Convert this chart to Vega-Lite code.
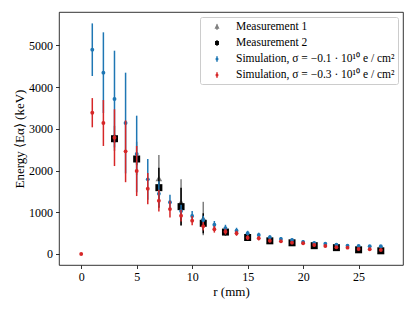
{
  "$schema": "https://vega.github.io/schema/vega-lite/v6.json",
  "width": 344,
  "height": 253,
  "autosize": "none",
  "padding": {"left": 59, "top": 12, "right": 12, "bottom": 46},
  "background": "#ffffff",
  "data": {
    "values": [
      {"s": "m1", "r": 3, "v": 2770, "e": 300},
      {"s": "m1", "r": 5, "v": 2290, "e": 400},
      {"s": "m1", "r": 7, "v": 1813, "e": 560},
      {"s": "m1", "r": 9, "v": 1240, "e": 550},
      {"s": "m1", "r": 11, "v": 850, "e": 400},
      {"s": "m1", "r": 13, "v": 530, "e": 80},
      {"s": "m1", "r": 15, "v": 400, "e": 60},
      {"s": "m1", "r": 17, "v": 320, "e": 50},
      {"s": "m1", "r": 19, "v": 270, "e": 40},
      {"s": "m1", "r": 21, "v": 200, "e": 40},
      {"s": "m1", "r": 23, "v": 155, "e": 30},
      {"s": "m1", "r": 25, "v": 102, "e": 30},
      {"s": "m1", "r": 27, "v": 78, "e": 30},
      {"s": "m2", "r": 3, "v": 2762, "e": 100},
      {"s": "m2", "r": 5, "v": 2276, "e": 150},
      {"s": "m2", "r": 7, "v": 1589, "e": 480},
      {"s": "m2", "r": 9, "v": 1134, "e": 450},
      {"s": "m2", "r": 11, "v": 735, "e": 240},
      {"s": "m2", "r": 13, "v": 525, "e": 80},
      {"s": "m2", "r": 15, "v": 395, "e": 50},
      {"s": "m2", "r": 17, "v": 315, "e": 40},
      {"s": "m2", "r": 19, "v": 268, "e": 35},
      {"s": "m2", "r": 21, "v": 199, "e": 30},
      {"s": "m2", "r": 23, "v": 152, "e": 30},
      {"s": "m2", "r": 25, "v": 100, "e": 25},
      {"s": "m2", "r": 27, "v": 76, "e": 25},
      {"s": "s1", "r": 1, "v": 4895, "e": 630},
      {"s": "s1", "r": 2, "v": 4344, "e": 967},
      {"s": "s1", "r": 3, "v": 3713, "e": 1158},
      {"s": "s1", "r": 4, "v": 3138, "e": 1206},
      {"s": "s1", "r": 5, "v": 2396, "e": 918},
      {"s": "s1", "r": 6, "v": 1789, "e": 487},
      {"s": "s1", "r": 7, "v": 1445, "e": 300},
      {"s": "s1", "r": 8, "v": 1240, "e": 180},
      {"s": "s1", "r": 9, "v": 1030, "e": 150},
      {"s": "s1", "r": 10, "v": 910, "e": 120},
      {"s": "s1", "r": 11, "v": 815, "e": 100},
      {"s": "s1", "r": 12, "v": 700, "e": 90},
      {"s": "s1", "r": 13, "v": 620, "e": 80},
      {"s": "s1", "r": 14, "v": 558, "e": 70},
      {"s": "s1", "r": 15, "v": 496, "e": 60},
      {"s": "s1", "r": 16, "v": 455, "e": 55},
      {"s": "s1", "r": 17, "v": 400, "e": 50},
      {"s": "s1", "r": 18, "v": 359, "e": 45},
      {"s": "s1", "r": 19, "v": 335, "e": 40},
      {"s": "s1", "r": 20, "v": 288, "e": 40},
      {"s": "s1", "r": 21, "v": 264, "e": 35},
      {"s": "s1", "r": 22, "v": 247, "e": 35},
      {"s": "s1", "r": 23, "v": 223, "e": 30},
      {"s": "s1", "r": 24, "v": 199, "e": 30},
      {"s": "s1", "r": 25, "v": 192, "e": 30},
      {"s": "s1", "r": 26, "v": 184, "e": 30},
      {"s": "s1", "r": 27, "v": 184, "e": 30},
      {"s": "s2", "r": 0, "v": 0, "e": 0},
      {"s": "s2", "r": 1, "v": 3385, "e": 350},
      {"s": "s2", "r": 2, "v": 3138, "e": 550},
      {"s": "s2", "r": 3, "v": 2787, "e": 680},
      {"s": "s2", "r": 4, "v": 2460, "e": 740},
      {"s": "s2", "r": 5, "v": 1988, "e": 600},
      {"s": "s2", "r": 6, "v": 1565, "e": 375},
      {"s": "s2", "r": 7, "v": 1277, "e": 260},
      {"s": "s2", "r": 8, "v": 1075, "e": 200},
      {"s": "s2", "r": 9, "v": 918, "e": 140},
      {"s": "s2", "r": 10, "v": 798, "e": 110},
      {"s": "s2", "r": 11, "v": 665, "e": 100},
      {"s": "s2", "r": 12, "v": 592, "e": 80},
      {"s": "s2", "r": 13, "v": 535, "e": 70},
      {"s": "s2", "r": 14, "v": 496, "e": 60},
      {"s": "s2", "r": 15, "v": 391, "e": 55},
      {"s": "s2", "r": 16, "v": 376, "e": 50},
      {"s": "s2", "r": 17, "v": 319, "e": 45},
      {"s": "s2", "r": 18, "v": 303, "e": 40},
      {"s": "s2", "r": 19, "v": 271, "e": 40},
      {"s": "s2", "r": 20, "v": 256, "e": 35},
      {"s": "s2", "r": 21, "v": 216, "e": 35},
      {"s": "s2", "r": 22, "v": 192, "e": 30},
      {"s": "s2", "r": 23, "v": 160, "e": 30},
      {"s": "s2", "r": 24, "v": 152, "e": 30},
      {"s": "s2", "r": 25, "v": 120, "e": 25},
      {"s": "s2", "r": 26, "v": 112, "e": 25},
      {"s": "s2", "r": 27, "v": 96, "e": 25}
    ]
  },
  "encoding": {
    "x": {
      "field": "r", "type": "quantitative",
      "scale": {"domain": [-2, 29], "nice": false, "zero": false},
      "axis": {"title": "r (mm)", "values": [0, 5, 10, 15, 20, 25], "format": "d", "titlePadding": 3}
    },
    "y": {
      "field": "v", "type": "quantitative",
      "scale": {"domain": [-264, 5798], "nice": false, "zero": false},
      "axis": {"title": "Energy ⟨Eα⟩ (keV)", "values": [0, 1000, 2000, 3000, 4000, 5000], "format": "d", "titlePadding": 2}
    },
    "color": {
      "field": "s", "type": "nominal",
      "scale": {"domain": ["m1", "m2", "s1", "s2"], "range": ["#7f7f7f", "#000000", "#1f77b4", "#d62728"]},
      "legend": {
        "orient": "top-right", "offset": 5, "title": null,
        "padding": 3, "symbolOffset": 7, "labelOffset": 12, "rowPadding": 3,
        "labelFont": "Liberation Serif", "labelFontSize": 11.5, "labelColor": "#000000", "labelLimit": 300,
        "strokeColor": "#cccccc", "fillColor": "#ffffff", "cornerRadius": 2,
        "symbolSize": 144,
        "labelExpr": "datum.value == 'm1' ? 'Measurement 1' : datum.value == 'm2' ? 'Measurement 2' : datum.value == 's1' ? 'Simulation, σ = −0.1 · 10¹⁰ e / cm²' : 'Simulation, σ = −0.3 · 10¹⁰ e / cm²'",
        "encode": {
          "symbols": {
            "update": {
              "shape": {"signal": "datum.value == 'm1' ? 'M0,-0.46L0,0.46M-0.22,0.18L0,-0.3L0.22,0.18Z' : datum.value == 'm2' ? 'M0,-0.46L0,0.46M-0.2,-0.22L0.2,-0.22L0.2,0.22L-0.2,0.22Z' : 'M0,-0.46L0,0.46M-0.13,0A0.13,0.13,0,1,0,0.13,0A0.13,0.13,0,1,0,-0.13,0Z'"},
              "size": {"value": 144},
              "strokeWidth": {"value": 1.5},
              "stroke": {"signal": "scale('color', datum.value)"},
              "fill": {"signal": "scale('color', datum.value)"},
              "opacity": {"value": 1}
            }
          }
        }
      }
    }
  },
  "layer": [
    {
      "transform": [{"filter": "datum.s == 'm1'"}],
      "mark": {"type": "errorbar", "ticks": false, "thickness": 1.5},
      "encoding": {"yError": {"field": "e"}}
    },
    {
      "transform": [{"filter": "datum.s == 'm1'"}],
      "mark": {"type": "point", "filled": true, "shape": "triangle-up", "size": 45, "opacity": 1}
    },
    {
      "transform": [{"filter": "datum.s == 'm2'"}],
      "mark": {"type": "errorbar", "ticks": false, "thickness": 1.5},
      "encoding": {"yError": {"field": "e"}}
    },
    {
      "transform": [{"filter": "datum.s == 'm2'"}],
      "mark": {"type": "point", "filled": true, "shape": "square", "size": 49, "opacity": 1}
    },
    {
      "transform": [{"filter": "datum.s == 's1'"}],
      "mark": {"type": "errorbar", "ticks": false, "thickness": 1.5},
      "encoding": {"yError": {"field": "e"}}
    },
    {
      "transform": [{"filter": "datum.s == 's1'"}],
      "mark": {"type": "point", "filled": true, "shape": "circle", "size": 15, "opacity": 1}
    },
    {
      "transform": [{"filter": "datum.s == 's2'"}],
      "mark": {"type": "errorbar", "ticks": false, "thickness": 1.5},
      "encoding": {"yError": {"field": "e"}}
    },
    {
      "transform": [{"filter": "datum.s == 's2'"}],
      "mark": {"type": "point", "filled": true, "shape": "circle", "size": 15, "opacity": 1}
    }
  ],
  "config": {
    "view": {"stroke": "#000000", "strokeWidth": 0.8},
    "axis": {
      "grid": false, "domain": false,
      "tickColor": "#000000", "tickWidth": 0.8, "tickSize": 3.5,
      "labelFont": "Liberation Serif", "labelFontSize": 12, "labelColor": "#000000", "labelPadding": 3,
      "titleFont": "Liberation Serif", "titleFontSize": 13, "titleFontWeight": "normal", "titleColor": "#000000"
    }
  }
}
